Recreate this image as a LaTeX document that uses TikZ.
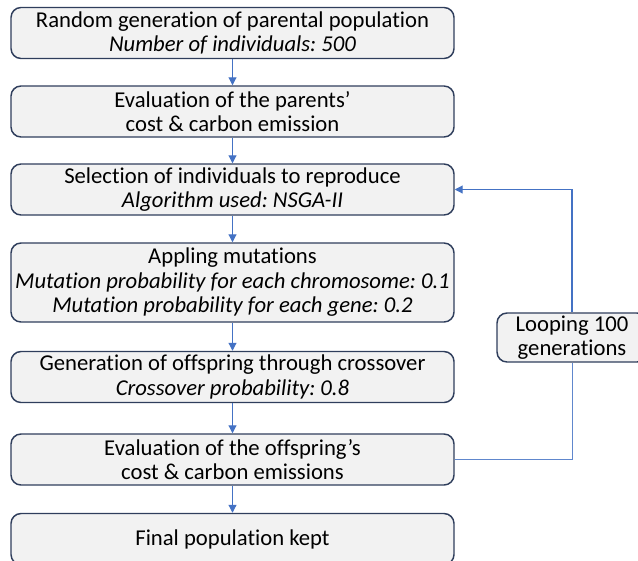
\documentclass[tikz,border=0pt]{standalone}
\usepackage{fontspec}
\setmainfont{Carlito}[Ligatures=NoCommon]
\usetikzlibrary{arrows.meta}
\frenchspacing

\definecolor{boxfill}{RGB}{242,242,242}
\definecolor{boxline}{RGB}{47,62,92}
\definecolor{flowblue}{RGB}{68,114,196}

\tikzset{every picture/.style={line width=0.75pt}}
\tikzset{
stepbox/.style={draw=boxline, fill=boxfill, line width=1.1pt, rounded corners=7.5pt,
  minimum width=332.25pt, minimum height=38.25pt, inner sep=0pt, align=center,
  font=\fontsize{17}{18.4}\selectfont},
loopbox/.style={stepbox, minimum width=112.5pt, minimum height=36.75pt},
flow/.style={draw=flowblue, line width=0.8pt, -{Triangle[length=6pt,width=6pt]}},
loopline/.style={draw=flowblue!85, line width=0.7pt}}

\begin{document}
\begin{tikzpicture}[x=0.75pt,y=0.75pt,yscale=-1,xscale=1]
\useasboundingbox (0,0) rectangle (638,560);

% Steps
\node[stepbox] (rand) at (232.5,33) {Random generation of parental population\\\textit{Number of individuals: 500}};
\node[stepbox] (evalp) at (232.5,111.5) {Evaluation of the parents’\\cost \& carbon emission};
\node[stepbox] (select) at (232.5,189.5) {Selection of individuals to reproduce\\\textit{Algorithm used: NSGA-II}};
\node[stepbox, minimum height=59.25pt] (mutate) at (232.5,282.5) {Appling mutations\\\textit{Mutation probability for each chromosome: 0.1}\\\textit{Mutation probability for each gene: 0.2}};
\node[stepbox] (cross) at (232.5,377) {Generation of offspring through crossover\\\textit{Crossover probability: 0.8}};
\node[stepbox] (evalo) at (232.5,459.5) {Evaluation of the offspring’s\\cost \& carbon emissions};
\node[stepbox] (final) at (232.5,539) {Final population kept};

% Loop
\node[loopbox] (loop) at (572,337.5) {Looping 100\\generations};

% Connectors
\draw[flow] (rand) -- (evalp);
\draw[flow] (evalp) -- (select);
\draw[flow] (select) -- (mutate);
\draw[flow] (mutate) -- (cross);
\draw[flow] (cross) -- (evalo);
\draw[flow] (evalo) -- (final);
\draw[loopline] (evalo.east) -| (loop.south);
\draw[loopline, flow] (loop.north) |- (select.east);

\end{tikzpicture}
\end{document}
